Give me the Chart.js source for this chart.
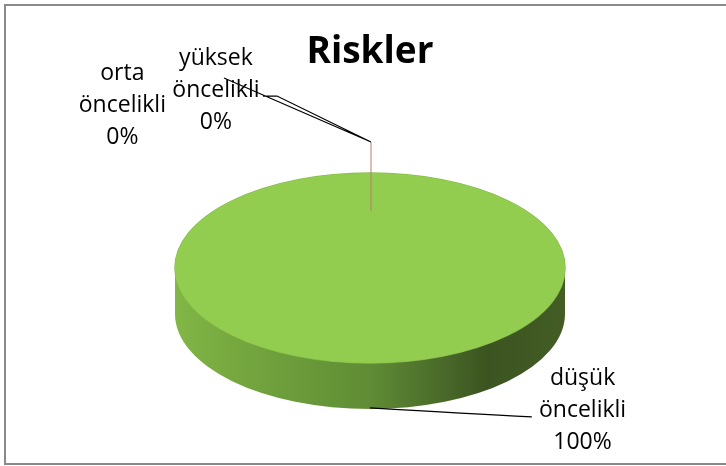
<!DOCTYPE html>
<html>
<head>
<meta charset="utf-8">
<script src="https://cdn.jsdelivr.net/npm/chart.js@4.4.1/dist/chart.umd.min.js"></script>
<style>
    html, body { margin: 0; padding: 0; background: #fff; overflow: hidden; }
    #wrap { position: relative; width: 726px; height: 466px; }
</style>
</head>
<body>
<div id="wrap"><canvas id="riskChart" width="726" height="466"></canvas></div>
<script>
// ==================== DATA ====================
const chartTitle = 'Riskler';
const categories = ['yüksek öncelikli', 'orta öncelikli', 'düşük öncelikli'];
const values = [0, 0, 100];
const sliceColors = ['#4f81bd', '#c0504d', '#92cd50'];

// ==================== 3D LOOK ====================
const tilt = 0.487;      // vertical squash of the top face
const depth = 46;        // height of the side wall
const labelFont = '23px "Open Sans"';
const lineGap = 32;

// label anchors, relative to pie centre and radius
const labelSpots = [
    { dx: -0.79, dy: -210 },
    { dx: -1.27, dy: -195 },
    { dx: 1.09, dy: 110 }
];

function pieGeom(chart) {
    const arc = chart.getDatasetMeta(0).data[2];
    const rx = arc.outerRadius;
    return { x: arc.x, y: arc.y, rx: rx, ry: rx * tilt };
}

const frame3d = {
    id: 'frame3d',
    beforeDraw(chart) {
        const ctx = chart.ctx;
        ctx.save();
        ctx.strokeStyle = '#8a8a8a';
        ctx.lineWidth = 2;
        ctx.strokeRect(5, 5, 760, 459);
        ctx.restore();
    },
    beforeDatasetsDraw(chart) {
        const ctx = chart.ctx;
        const g = pieGeom(chart);
        ctx.save();
        // side wall
        const grad = ctx.createLinearGradient(g.x - g.rx, 0, g.x + g.rx, 0);
        grad.addColorStop(0, '#82b646');
        grad.addColorStop(0.15, '#76a83f');
        grad.addColorStop(0.5, '#5f8c35');
        grad.addColorStop(0.8, '#3c5421');
        grad.addColorStop(1, '#435d25');
        ctx.beginPath();
        ctx.ellipse(g.x, g.y, g.rx, g.ry, 0, 0, Math.PI);
        ctx.lineTo(g.x - g.rx, g.y + depth);
        ctx.ellipse(g.x, g.y + depth, g.rx, g.ry, 0, Math.PI, 0, true);
        ctx.closePath();
        ctx.fillStyle = grad;
        ctx.fill();
        // faint rim of the top face
        ctx.beginPath();
        ctx.ellipse(g.x, g.y, g.rx, g.ry, 0, 0, Math.PI * 2);
        ctx.strokeStyle = '#86bb4a';
        ctx.lineWidth = 1.5;
        ctx.stroke();
        // flatten the library's arcs into the top face
        ctx.translate(g.x, g.y);
        ctx.scale(1, tilt);
        ctx.translate(-g.x, -g.y);
    },
    afterDatasetsDraw(chart) {
        chart.ctx.restore();
    },
    afterDraw(chart) {
        const ctx = chart.ctx;
        const g = pieGeom(chart);
        const total = values.reduce((a, b) => a + b, 0);
        const topY = g.y - g.ry;
        const ox = g.x + 1, oy = topY - 31;

        ctx.save();
        // zero slices edge
        ctx.strokeStyle = '#b87a72';
        ctx.lineWidth = 1;
        ctx.beginPath();
        ctx.moveTo(ox, oy);
        ctx.lineTo(ox, topY + 38);
        ctx.stroke();

        // leader lines
        ctx.strokeStyle = '#000';
        ctx.lineWidth = 1.2;
        ctx.beginPath();
        ctx.moveTo(ox, oy);
        ctx.lineTo(ox - 94, oy - 46);
        ctx.lineTo(ox - 108, oy - 46);
        ctx.moveTo(ox, oy);
        ctx.lineTo(ox - 147, oy - 64);
        ctx.moveTo(g.x, g.y + g.ry + depth - 1);
        ctx.quadraticCurveTo(g.x + 100, g.y + g.ry + depth + 5, g.x + g.rx * 0.83, g.y + g.ry + depth + 8);
        ctx.stroke();

        // labels
        ctx.fillStyle = '#000';
        ctx.font = labelFont;
        ctx.textAlign = 'center';
        ctx.textBaseline = 'middle';
        categories.forEach((name, i) => {
            const spot = labelSpots[i];
            const lx = g.x + spot.dx * g.rx;
            const ly = g.y + spot.dy;
            const lines = name.split(' ').concat(Math.round(values[i] / total * 100) + '%');
            lines.forEach((t, j) => ctx.fillText(t, lx, ly + j * lineGap));
        });

        // title
        ctx.font = 'bold 37px "Open Sans"';
        ctx.fillText(chartTitle, g.x, 52);
        ctx.restore();
    }
};

// ==================== CHART ====================
new Chart(document.getElementById('riskChart'), {
    type: 'pie',
    data: {
        labels: categories,
        datasets: [{
            data: values,
            backgroundColor: sliceColors,
            borderWidth: 0
        }]
    },
    options: {
        responsive: false,
        animation: false,
        layout: { padding: { left: 175, right: 161, top: 73, bottom: 3 } },
        plugins: {
            legend: { display: false },
            title: { display: false },
            tooltip: { enabled: false }
        }
    },
    plugins: [frame3d]
});
</script>
</body>
</html>
